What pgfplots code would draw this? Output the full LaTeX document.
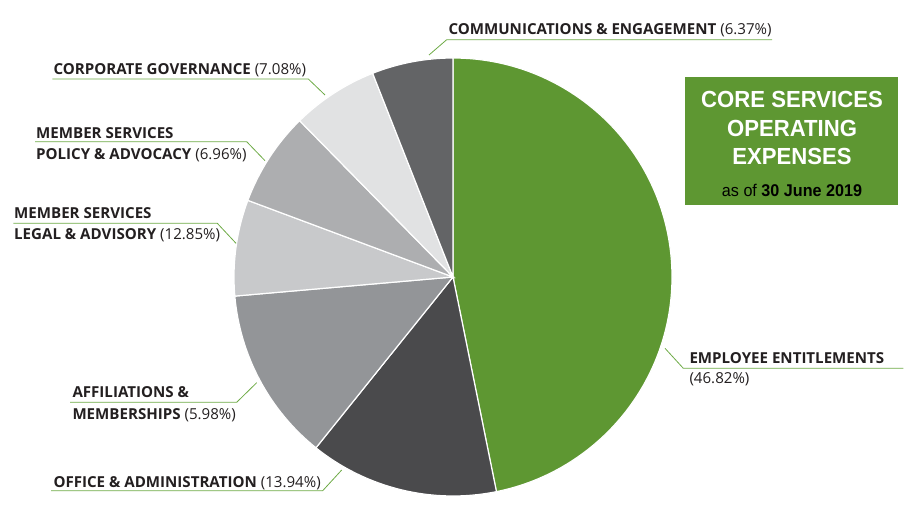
\documentclass[border=0pt]{standalone}
\usepackage{pgfplots}
\usepackage{pgfplotstable}
\pgfplotsset{compat=1.18}
\usepackage{fontspec}
\setmainfont{Open Sans}
\newfontfamily\titlefont[FakeStretch=0.95]{Liberation Sans}

\definecolor{slice0}{HTML}{5E9732}
\definecolor{slice1}{HTML}{4A4A4C}
\definecolor{slice2}{HTML}{939598}
\definecolor{slice3}{HTML}{C8C9CB}
\definecolor{slice4}{HTML}{ADAEB0}
\definecolor{slice5}{HTML}{E1E2E3}
\definecolor{slice6}{HTML}{636466}
\definecolor{lead}{HTML}{6DAA45}
\definecolor{txt}{HTML}{231F20}

% slices clockwise from 12 o'clock, share in %
\pgfplotstableread{
pct
46.82
13.94
12.85
7.08
6.96
6.37
5.98
}\slices

\newcommand\lab{\fontsize{15.1}{18}\selectfont}

\begin{document}
\begin{tikzpicture}
\begin{axis}[
    width=906pt, height=506pt, scale only axis,
    xmin=0, xmax=906, ymin=0, ymax=506,
    hide axis, clip=false,
  ]
  \path (0,0) rectangle (906,506);
  \def\s{90}
  \pgfplotstableforeachcolumnelement{pct}\of\slices\as\v{%
    \pgfmathsetmacro\e{\s-3.6*\v}%
    \edef\slice{\noexpand\fill[slice\pgfplotstablerow, draw=white, line width=1.2pt]
      (453,229) -- ++(\s:219pt) arc[start angle=\s, end angle=\e, radius=219pt] -- cycle;}%
    \slice
    \xdef\s{\e}%
  }

  % leader lines
  \begin{scope}[lead, line width=0.8pt]
    \draw (429,451) -- (446.7,466.3) -- (772,466.3);
    \draw (325,411) -- (308.3,427) -- (52.3,427);
    \draw (265,345.3) -- (246.7,364.3) -- (35,364.3);
    \draw (236,262.7) -- (217.3,282.7) -- (13.3,282.7);
    \draw (256.7,123.3) -- (236.7,103.7) -- (70,103.7);
    \draw (341.7,36) -- (322.7,15.3) -- (51,15.3);
    \draw (665,157.7) -- (683.3,137.7) -- (903.3,137.7);
  \end{scope}

  \begin{scope}[every node/.style={anchor=base west, inner sep=0pt, text=txt, font=\lab}]
    \node at (448.3,471) {\bfseries COMMUNICATIONS \& ENGAGEMENT \mdseries(6.37\%)};
    \node at (53.3,431.7) {\bfseries CORPORATE GOVERNANCE \mdseries(7.08\%)};
    \node at (36,367.7) {\bfseries MEMBER SERVICES};
    \node at (36,346.7) {\bfseries POLICY \& ADVOCACY \mdseries(6.96\%)};
    \node at (14,287.7) {\bfseries MEMBER SERVICES};
    \node at (14,266) {\bfseries LEGAL \& ADVISORY \mdseries(12.85\%)};
    \node at (72.3,108.3) {\bfseries AFFILIATIONS \&};
    \node at (72.3,86.7) {\bfseries MEMBERSHIPS \mdseries(5.98\%)};
    \node at (53.3,18.3) {\bfseries OFFICE \& ADMINISTRATION \mdseries(13.94\%)};
    \node at (689.3,142.7) {\bfseries EMPLOYEE ENTITLEMENTS};
    \node at (689.3,122.7) {(46.82\%)};
  \end{scope}

  % title box
  \fill[slice0] (685,428.7) rectangle (898,301);
  \begin{scope}[every node/.style={anchor=base, inner sep=0pt}]
    \node[white, font=\titlefont\bfseries\fontsize{23.3}{26}\selectfont] at (792,398.7) {CORE SERVICES};
    \node[white, font=\titlefont\bfseries\fontsize{23.3}{26}\selectfont] at (792,369.3) {OPERATING};
    \node[white, font=\titlefont\bfseries\fontsize{23.3}{26}\selectfont] at (792,341) {EXPENSES};
    \node[black, font=\titlefont\fontsize{17}{20}\selectfont] at (792,309.3) {as of \bfseries 30 June 2019};
  \end{scope}
\end{axis}
\end{tikzpicture}
\end{document}
